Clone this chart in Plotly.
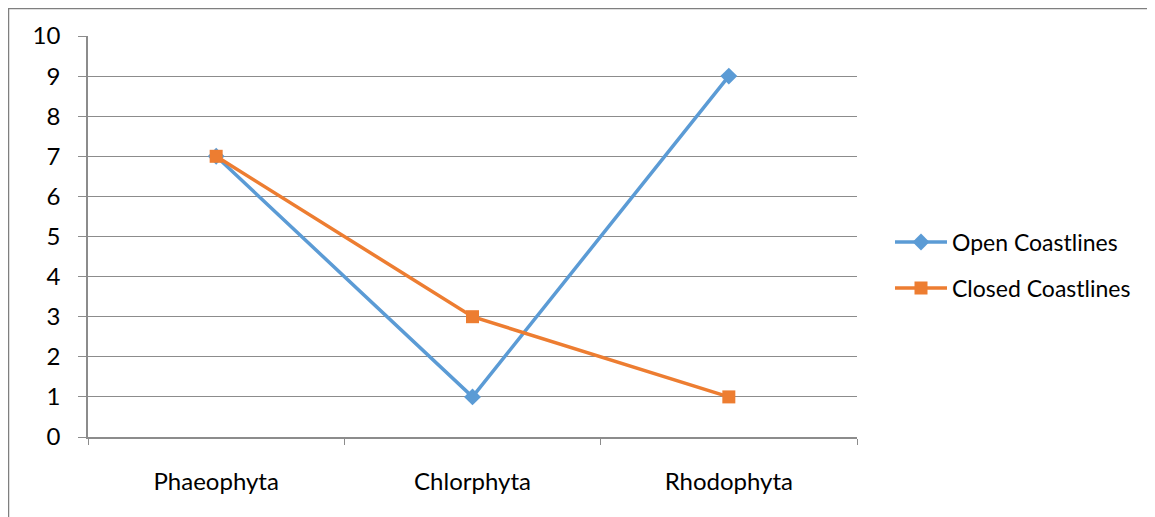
import plotly.graph_objects as go

categories = ["Phaeophyta", "Chlorphyta", "Rhodophyta"]
open_coast = [7, 1, 9]
closed_coast = [7, 3, 1]

# page has an 8px body margin; work in figure coordinates
OFF = 8
W, H = 1155 - OFF, 517 - OFF
L, R, T, B = 88 - OFF, 857 - OFF, 36 - OFF, 437 - OFF

pw, ph = R - L, B - T
def px(x):
    return (x - OFF - L) / pw
def py(y):
    return (B - (y - OFF)) / ph

fig = go.Figure()
fig.add_trace(go.Scatter(x=categories, y=open_coast, name="Open Coastlines",
                         mode="lines+markers", legend="legend",
                         line=dict(color="#5B9BD5", width=3.5),
                         marker=dict(symbol="diamond", size=13, color="#5B9BD5")))
fig.add_trace(go.Scatter(x=categories, y=closed_coast, name="Closed Coastlines",
                         mode="lines+markers", legend="legend2",
                         line=dict(color="#ED7D31", width=3.5),
                         marker=dict(symbol="square", size=13, color="#ED7D31")))

grid = "#8C8C8C"
leg_common = dict(xanchor="left", yanchor="middle", font=dict(size=23),
                  itemwidth=52, bgcolor="rgba(0,0,0,0)")
fig.update_layout(
    width=W, height=H,
    margin=dict(l=L, r=W - R, t=T, b=H - B),
    paper_bgcolor="white", plot_bgcolor="white",
    font=dict(family="Lato, Carlito, Calibri, sans-serif", size=24, color="black"),
    showlegend=True,
    legend=dict(x=px(890), y=py(242), **leg_common),
    legend2=dict(x=px(890), y=py(288), **leg_common),
    xaxis=dict(type="category", range=[-0.5, 2.5], tickson="boundaries",
               ticks="outside", ticklen=6, tickcolor=grid, showline=True,
               linecolor=grid, linewidth=1.5, showgrid=False, ticklabelstandoff=22),
    yaxis=dict(range=[0, 10], dtick=1, ticks="outside", ticklen=8, tickcolor=grid,
               showline=True, linecolor=grid, linewidth=1.5, showgrid=True,
               gridcolor=grid, gridwidth=1, zeroline=False, ticklabelstandoff=13),
    shapes=[
        dict(type="line", xref="paper", yref="paper", x0=px(8), x1=px(1170),
             y0=py(8), y1=py(8), line=dict(color="#7F7F7F", width=2.5)),
        dict(type="line", xref="paper", yref="paper", x0=px(8), x1=px(8),
             y0=py(8), y1=py(530), line=dict(color="#7F7F7F", width=2.5)),
    ],
)
fig.write_html("out.html")
